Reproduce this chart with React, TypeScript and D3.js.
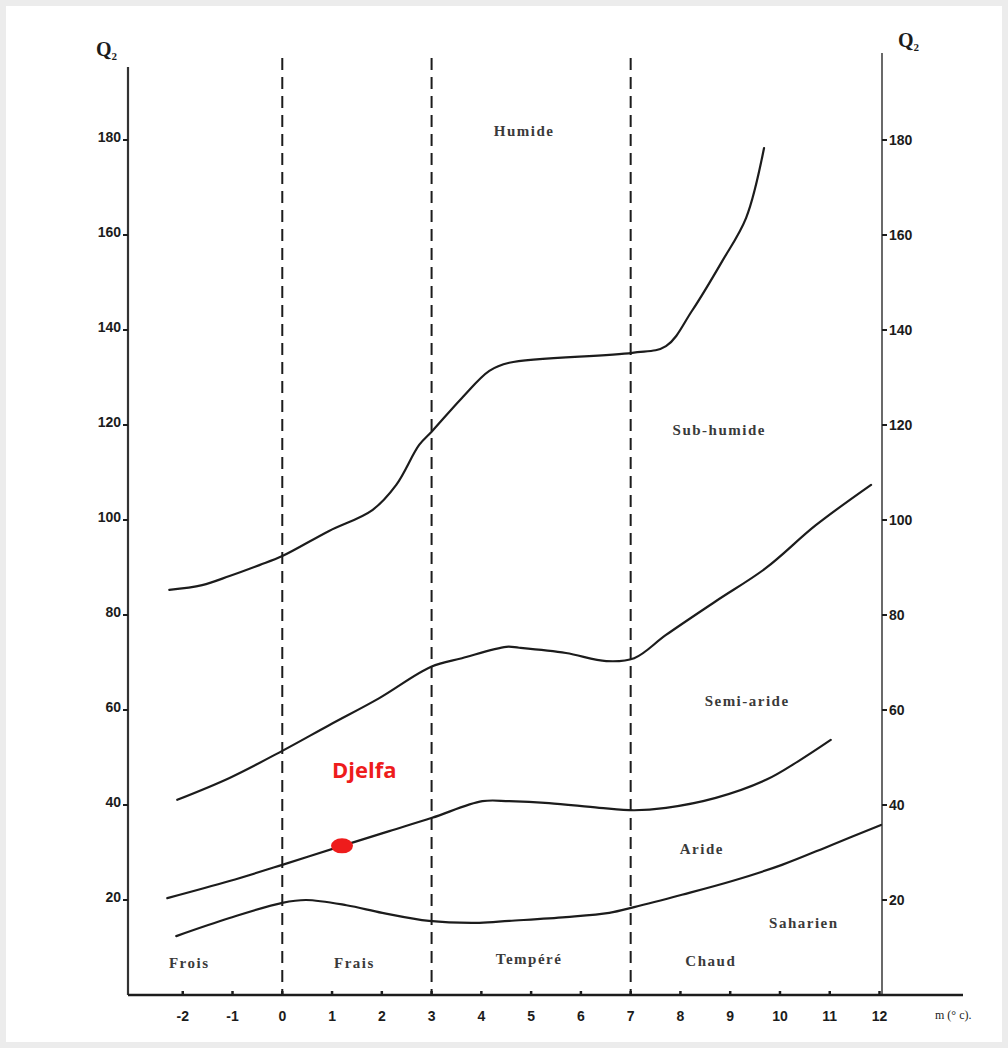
import React, { useEffect, useRef } from "react";
import * as d3 from "d3";

// Emberger climagram: Q2 vs m (°C), bioclimatic boundaries
const xTicks = [-2, -1, 0, 1, 2, 3, 4, 5, 6, 7, 8, 9, 10, 11, 12];
const yTicks = [20, 40, 60, 80, 100, 120, 140, 160, 180];
const dashedM = [0, 3, 7];

// boundary curves, [m, Q2]
const humideSubhumide: [number, number][] = [
  [-2.27, 85.3], [-1.61, 86.3], [-1.06, 88.2], [-0.46, 90.5], [0, 92.4],
  [0.94, 97.7], [1.81, 102.1], [2.29, 107.4], [2.75, 115.8], [3.01, 118.7],
  [3.61, 125.7], [4.16, 131.4], [4.56, 133.1], [7.03, 135.2], [7.71, 136.6],
  [8.23, 144.0], [8.84, 154.5], [9.32, 163.6], [9.68, 178.3],
];
const subhumideSemiaride: [number, number][] = [
  [-2.11, 41.1], [-1.06, 45.7], [0, 51.4], [0.94, 56.8], [1.95, 62.5],
  [2.99, 69.1], [3.61, 70.9], [4.5, 73.3], [4.76, 73.1], [5.7, 72.0],
  [6.51, 70.3], [7.07, 70.9], [7.71, 75.8], [8.71, 82.9], [9.72, 89.9],
  [10.72, 98.9], [11.83, 107.4],
];
const semiarideAride: [number, number][] = [
  [-2.31, 20.4], [-1.06, 24.0], [0, 27.4], [1.2, 31.4], [2.15, 34.5],
  [3.01, 37.3], [4.02, 40.8], [4.56, 40.8], [5.36, 40.4], [6.37, 39.4],
  [7.07, 38.9], [7.71, 39.4], [8.71, 41.5], [9.72, 45.3], [10.38, 49.3],
  [11.02, 53.7],
];
const arideSaharien: [number, number][] = [
  [-2.13, 12.4], [-1.06, 16.2], [0, 19.4], [0.48, 20.0], [1.29, 18.9],
  [2.01, 17.3], [2.95, 15.6], [3.96, 15.2], [4.56, 15.6], [5.7, 16.4],
  [6.57, 17.3], [7.07, 18.5], [8.03, 21.1], [9.04, 24.0], [10.04, 27.4],
  [11.04, 31.6], [12.03, 35.8],
];
const curves = [humideSubhumide, subhumideSemiaride, semiarideAride, arideSaharien];

const zoneNames = ["Humide", "Sub-humide", "Semi-aride", "Aride", "Saharien"];
const zoneAt: [number, number][] = [[4.86, 182], [8.78, 119], [9.34, 62], [8.43, 30.7], [10.48, 15.2]];
const tempNames = ["Frois", "Frais", "Tempéré", "Chaud"];
const tempAt: [number, number][] = [[-1.87, 6.8], [1.45, 6.8], [4.96, 7.6], [8.61, 7.2]];

const station = { name: "Djelfa", m: 1.2, q: 31.4 };

export default function App() {
  const ref = useRef<SVGSVGElement>(null);

  useEffect(() => {
    const W = 1008, H = 1048;
    const svg = d3.select(ref.current);
    svg.selectAll("*").remove();

    const x = d3.scaleLinear().domain([-3.1, 12.05]).range([128, 882]);
    const y = d3.scaleLinear().domain([0, 200]).range([995, 45]);
    const ink = "#1c1c1c";

    svg.append("rect").attr("width", W).attr("height", H).attr("fill", "#ececec");
    svg.append("rect").attr("x", 6).attr("y", 6).attr("width", W - 12).attr("height", H - 12).attr("fill", "#fff");

    // axes
    svg.append("line").attr("x1", x(-3.1)).attr("x2", x(-3.1)).attr("y1", 67).attr("y2", y(0))
      .attr("stroke", "#333").attr("stroke-width", 2.2);
    svg.append("line").attr("x1", x(12.05)).attr("x2", x(12.05)).attr("y1", 53).attr("y2", y(0))
      .attr("stroke", "#444").attr("stroke-width", 1.6);
    svg.append("line").attr("x1", x(-3.1)).attr("x2", 963).attr("y1", y(0)).attr("y2", y(0))
      .attr("stroke", ink).attr("stroke-width", 2.6);

    // dashed temperature boundaries
    svg.selectAll(".dash").data(dashedM).enter().append("line")
      .attr("x1", d => x(d)).attr("x2", d => x(d))
      .attr("y1", 58).attr("y2", y(0))
      .attr("stroke", ink).attr("stroke-width", 2)
      .attr("stroke-dasharray", "12,7");

    // left y ticks
    const left = svg.append("g");
    left.selectAll("line").data(yTicks).enter().append("line")
      .attr("x1", x(-3.1) - 5).attr("x2", x(-3.1)).attr("y1", d => y(d)).attr("y2", d => y(d))
      .attr("stroke", ink).attr("stroke-width", 2);
    left.selectAll("text").data(yTicks).enter().append("text")
      .attr("x", x(-3.1) - 7).attr("y", d => y(d) + 2)
      .attr("text-anchor", "end")
      .style("font-family", "Liberation Sans, Arial, sans-serif")
      .style("font-size", "14px").style("font-weight", "bold").attr("fill", ink)
      .text(d => String(d));

    // right y ticks
    const right = svg.append("g");
    right.selectAll("line").data(yTicks).enter().append("line")
      .attr("x1", x(12.05)).attr("x2", x(12.05) + 5).attr("y1", d => y(d)).attr("y2", d => y(d))
      .attr("stroke", ink).attr("stroke-width", 2);
    right.selectAll("text").data(yTicks).enter().append("text")
      .attr("x", x(12.05) + 7).attr("y", d => y(d) + 5)
      .style("font-family", "Liberation Sans, Arial, sans-serif")
      .style("font-size", "14px").style("font-weight", "bold").attr("fill", ink)
      .text(d => String(d));

    // x ticks
    const bottom = svg.append("g");
    bottom.selectAll("line").data(xTicks).enter().append("line")
      .attr("x1", d => x(d)).attr("x2", d => x(d)).attr("y1", y(0) - 4).attr("y2", y(0))
      .attr("stroke", ink).attr("stroke-width", 2.5);
    bottom.selectAll("text").data(xTicks).enter().append("text")
      .attr("x", d => x(d)).attr("y", y(0) + 26)
      .attr("text-anchor", "middle")
      .style("font-family", "Liberation Sans, Arial, sans-serif")
      .style("font-size", "14px").style("font-weight", "bold").attr("fill", ink)
      .text(d => String(d));
    svg.append("text").attr("x", 935).attr("y", y(0) + 24)
      .style("font-family", "Liberation Serif, serif").style("font-size", "12px").attr("fill", ink)
      .text("m (° c).");

    // Q2 titles
    const q2 = (px: number, py: number) => {
      const t = svg.append("text").attr("x", px).attr("y", py)
        .style("font-family", "Liberation Serif, serif").style("font-size", "20px")
        .style("font-weight", "bold").attr("fill", ink);
      t.append("tspan").text("Q");
      t.append("tspan").attr("dy", 4).style("font-size", "11px").text("2");
    };
    q2(96, 56);
    q2(898, 47);

    // boundary curves
    const line = d3.line<[number, number]>()
      .x(d => x(d[0])).y(d => y(d[1]))
      .curve(d3.curveCatmullRom.alpha(0.5));
    svg.selectAll(".curve").data(curves).enter().append("path")
      .attr("d", d => line(d))
      .attr("fill", "none").attr("stroke", ink).attr("stroke-width", 2.2)
      .attr("stroke-linecap", "round");

    // zone labels
    const zoneFont = (sel: any) => sel
      .attr("text-anchor", "middle")
      .style("font-family", "Liberation Serif, serif")
      .style("font-size", "15px").style("font-weight", "bold")
      .style("letter-spacing", "1.5px").attr("fill", "#3a3a3a");
    svg.selectAll(".zone").data(zoneNames).enter().append("text")
      .attr("x", (_, i) => x(zoneAt[i][0])).attr("y", (_, i) => y(zoneAt[i][1]) + 5)
      .call(zoneFont).text(d => d);
    svg.selectAll(".temp").data(tempNames).enter().append("text")
      .attr("x", (_, i) => x(tempAt[i][0])).attr("y", (_, i) => y(tempAt[i][1]) + 5)
      .call(zoneFont).text(d => d);

    // station
    svg.append("ellipse").attr("cx", x(station.m)).attr("cy", y(station.q))
      .attr("rx", 11).attr("ry", 7.5).attr("fill", "#ee1c1c");
    svg.append("text").attr("x", 332).attr("y", 778)
      .style("font-family", "Open Sans, Liberation Sans, sans-serif")
      .style("font-size", "22px").style("font-weight", "bold").attr("fill", "#ee1c1c")
      .text(station.name);
  }, []);

  return (
    <div style={{ position: "absolute", left: 0, top: 0 }}>
      <svg ref={ref} width={1008} height={1048} style={{ display: "block" }} />
    </div>
  );
}
